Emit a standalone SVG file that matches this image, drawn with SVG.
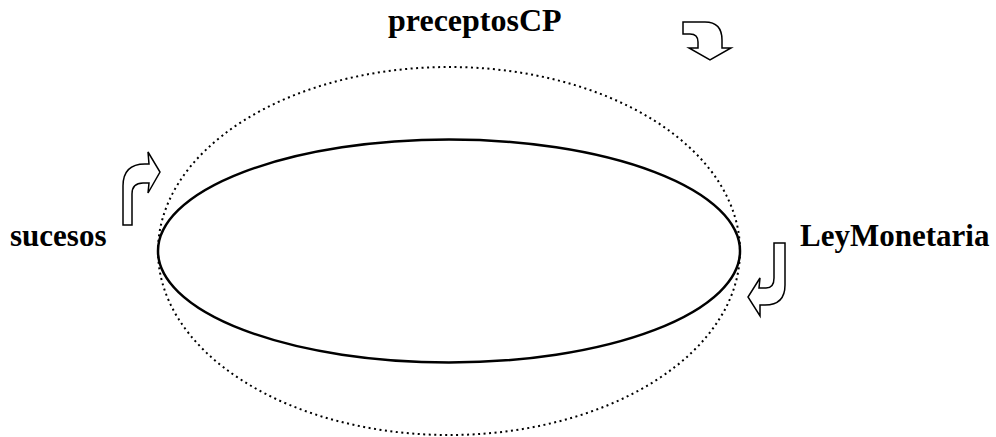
<svg xmlns="http://www.w3.org/2000/svg" width="996" height="437" viewBox="0 0 996 437">
<style>
.lbl{font-family:"Liberation Serif","Times New Roman",serif;font-weight:bold;font-size:31px;fill:#000}
.arr{fill:#fff;stroke:#000;stroke-width:1.5;stroke-linejoin:miter}
</style>
<rect width="996" height="437" fill="#fff"/>
<g id="connectors">
<ellipse id="outer" cx="449" cy="251" rx="291" ry="184" fill="none" stroke="#000" stroke-width="2" stroke-dasharray="2 3.5"/>
<ellipse id="inner" cx="449" cy="251" rx="291" ry="111.5" fill="none" stroke="#000" stroke-width="2.5"/>
<path class="arr" d="M683,22 L705,22 Q722,22 722,40 L722,48 L731,48 L710,60 L689,48 L698,48 L698,42 Q698,34 690,34 L683,34 Z"/>
<path class="arr" d="M123,225 L123,186 Q123,164 145,164 L149,164 L148,152 L160,172 L148,193 L149,183 L143,183 Q132,183 132,194 L132,225 Z"/>
<path class="arr" d="M774,243 L785,243 L785,285 Q785,305 765,305 L760,305 L760,316 L748,297 L760,278 L759,288 L766,288 Q774,288 774,278 Z"/>
</g>
<g id="preceptosCP"><text class="lbl" x="388" y="31" style="font-size:32px">preceptosCP</text></g>
<g id="sucesos"><text class="lbl" x="10" y="246">sucesos</text></g>
<g id="LeyMonetaria"><text class="lbl" x="800" y="246">LeyMonetaria</text></g>
</svg>
